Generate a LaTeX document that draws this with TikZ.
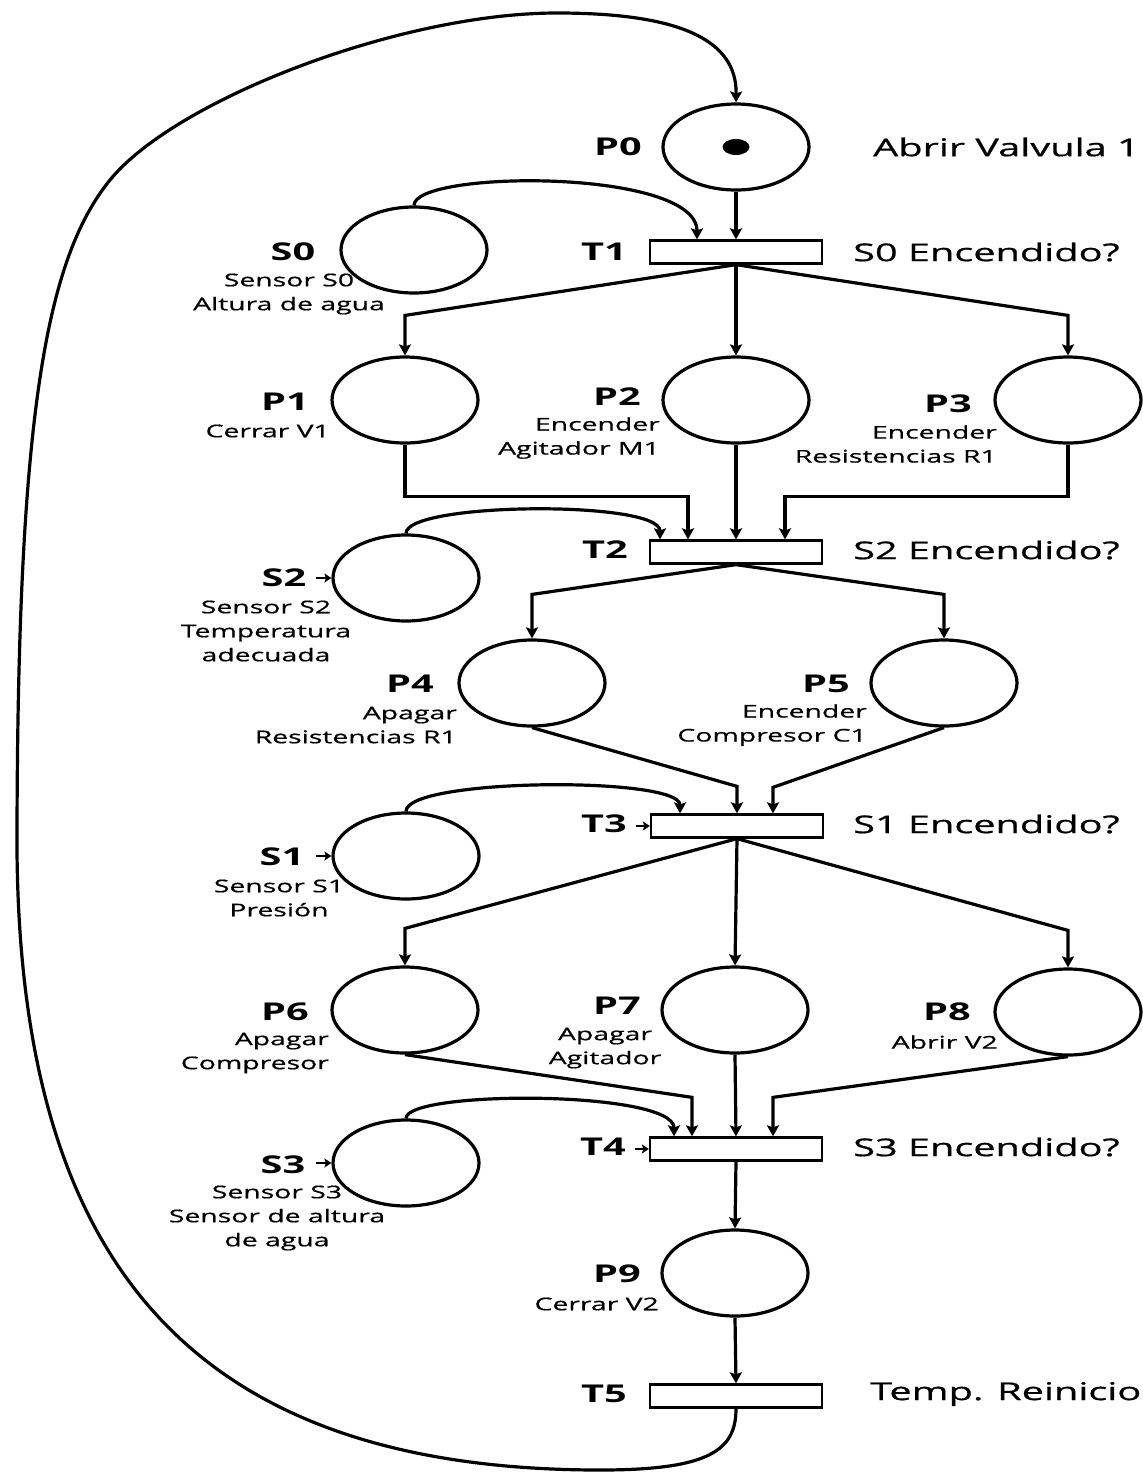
\documentclass[tikz,border=0pt]{standalone}
\usepackage{fontspec}
\setmainfont{Open Sans}[FakeStretch=1.62, UprightFeatures={FakeBold=0.7}]
\usetikzlibrary{shapes.geometric,arrows.meta,calc}

\begin{document}
\begin{tikzpicture}[x=1pt,y=-1pt,
  placeell/.style={ellipse, draw, line width=3.2pt, minimum width=146pt, minimum height=86pt, inner sep=0pt},
  transbox/.style={rectangle, draw, line width=2.3pt, fill=white, minimum width=172pt, minimum height=23pt, inner sep=0pt},
  pname/.style={font=\fontsize{24.5}{28}\selectfont\bfseries, inner sep=0pt},
  cond/.style={font=\fontsize{24.5}{28}\selectfont, inner sep=0pt, anchor=west},
  desc/.style={font=\fontsize{17.5}{24}\selectfont, inner sep=0pt, align=right, anchor=east},
  sdesc/.style={font=\fontsize{17.5}{24}\selectfont, inner sep=0pt, align=center},
  flowarrow/.style={line width=3.2pt, -{Stealth[length=11pt,width=12pt,inset=2pt]}},
  stubarrow/.style={line width=2.4pt, -{Stealth[length=7pt,width=9pt,inset=1.5pt]}},
]
\useasboundingbox (0,0) rectangle (1143,1473);

% places and transitions
\node[placeell] (P0) at (736,147) {};
\node[ellipse, fill, minimum width=27pt, minimum height=16pt, inner sep=0pt] (tok) at (P0) {};
\node[transbox] (T1) at (736,252) {};
\node[placeell] (S0) at (414,250) {};
\node[placeell] (P1) at (405,400) {};
\node[placeell] (P2) at (736,400) {};
\node[placeell] (P3) at (1068,400) {};
\node[transbox] (T2) at (736,552) {};
\node[placeell] (S2) at (406,578) {};
\node[placeell] (P4) at (532,683) {};
\node[placeell] (P5) at (944,683) {};
\node[transbox] (T3) at (737,826) {};
\node[placeell] (S1) at (406,856) {};
\node[placeell] (P6) at (405,1010) {};
\node[placeell] (P7) at (735,1010) {};
\node[placeell] (P8) at (1068,1012) {};
\node[transbox] (T4) at (736,1149) {};
\node[placeell] (S3) at (406,1163) {};
\node[placeell] (P9) at (735,1273) {};
\node[transbox] (T5) at (736,1396) {};

% names
\node[pname] (P0n) at (618,147) {P0};
\node[pname] (T1n) at (604,252) {T1};
\node[pname] (S0n) at (293,252) {S0};
\node[pname] (P1n) at (285,402) {P1};
\node[pname] (P2n) at (617,397) {P2};
\node[pname] (P3n) at (948,404) {P3};
\node[pname] (T2n) at (605,550) {T2};
\node[pname] (S2n) at (284,578) {S2};
\node[pname] (P4n) at (410,684) {P4};
\node[pname] (P5n) at (826,684) {P5};
\node[pname] (T3n) at (604,824) {T3};
\node[pname] (S1n) at (282,857) {S1};
\node[pname] (P6n) at (285,1012) {P6};
\node[pname] (P7n) at (617,1006) {P7};
\node[pname] (P8n) at (947,1012) {P8};
\node[pname] (T4n) at (603,1147) {T4};
\node[pname] (S3n) at (283,1165) {S3};
\node[pname] (P9n) at (617,1274) {P9};
\node[pname] (T5n) at (604,1394) {T5};

% conditions and actions on the right
\node[cond] (P0c) at (873,147) {Abrir Valvula 1};
\node[cond] (T1c) at (853,252) {S0 Encendido?};
\node[cond] (T2c) at (853,550) {S2 Encendido?};
\node[cond] (T3c) at (853,824) {S1 Encendido?};
\node[cond] (T4c) at (853,1147) {S3 Encendido?};
\node[cond] (T5c) at (870,1394) {Temp. Reinicio};

% descriptions
\node[sdesc] (S0d) at (289,294) {Sensor S0\\Altura de agua};
\node[desc] (P1d) at (330,431) {Cerrar V1};
\node[desc] (P2d) at (660,438) {Encender\\Agitador M1};
\node[desc] (P3d) at (997,444) {Encender\\Resistencias R1};
\node[sdesc] (S2d) at (266,631) {Sensor S2\\Temperatura\\adecuada};
\node[desc] (P4d) at (457,725) {Apagar\\Resistencias R1};
\node[desc] (P5d) at (867,725) {Encender\\Compresor C1};
\node[sdesc] (S1d) at (279,898) {Sensor S1\\Presión};
\node[desc] (P6d) at (329,1053) {Apagar\\Compresor};
\node[sdesc] (P7d) at (605,1048) {Apagar\\Agitador};
\node[desc] (P8d) at (998,1042) {Abrir V2};
\node[sdesc] (S3d) at (277,1218) {Sensor S3\\Sensor de altura\\de agua};
\node[desc] (P9d) at (659,1304) {Cerrar V2};

% small markers beside some names
\draw[stubarrow] ($(S2.west)+(-15,0)$) -- (S2.west);
\draw[stubarrow] ($(S1.west)+(-15,0)$) -- (S1.west);
\draw[stubarrow] ($(S3.west)+(-15,0)$) -- (S3.west);
\draw[stubarrow] ($(T3.west)+(-14,0)$) -- (T3.west);
\draw[stubarrow] ($(T4.west)+(-14,0)$) -- (T4.west);

% P0 -> T1 and sensor S0
\draw[flowarrow] (P0.south) -- (T1.north);
\draw[flowarrow] (S0.north) .. controls (414,170) and (697,168) .. ($(T1.north)+(-39,0)$);

% T1 fork
\draw[flowarrow] (T1.south) -- ($(P1.north)+(0,-40)$) -- (P1.north);
\draw[flowarrow] (T1.south) -- (P2.north);
\draw[flowarrow] (T1.south) -- ($(P3.north)+(0,-40)$) -- (P3.north);

% join into T2
\draw[flowarrow] (P1.south) -- ($(P1.south)+(0,52)$) -| ($(T2.north)+(-48,0)$);
\draw[flowarrow] (P2.south) -- (T2.north);
\draw[flowarrow] (P3.south) -- ($(P3.south)+(0,52)$) -| ($(T2.north)+(49,0)$);
\draw[flowarrow] (S2.north) .. controls (406,502) and (660,500) .. ($(T2.north)+(-76,0)$);

% T2 fork
\draw[flowarrow] (T2.south) -- ($(P4.north)+(0,-44)$) -- (P4.north);
\draw[flowarrow] (T2.south) -- ($(P5.north)+(0,-44)$) -- (P5.north);

% join into T3
\draw[flowarrow] (P4.south) -- ($(T3.north)+(0,-27)$) -- (T3.north);
\draw[flowarrow] (P5.south) -- ($(T3.north)+(36,-26)$) -- ($(T3.north)+(36,0)$);
\draw[flowarrow] (S1.north) .. controls (406,778) and (680,776) .. ($(T3.north)+(-57,0)$);

% T3 fork
\draw[flowarrow] (T3.south) -- ($(P6.north)+(0,-37)$) -- (P6.north);
\draw[flowarrow] (T3.south) -- (P7.north);
\draw[flowarrow] (T3.south) -- ($(P8.north)+(0,-37)$) -- (P8.north);

% join into T4
\draw[flowarrow] (P6.south) -- ($(T4.north)+(-44,-39)$) -- ($(T4.north)+(-44,0)$);
\draw[flowarrow] (P7.south) -- (T4.north);
\draw[flowarrow] (P8.south) -- ($(T4.north)+(37,-39)$) -- ($(T4.north)+(37,0)$);
\draw[flowarrow] (S3.north) .. controls (406,1090) and (674,1090) .. ($(T4.north)+(-62,0)$);

% T4 -> P9 -> T5
\draw[flowarrow] (T4.south) -- (P9.north);
\draw[flowarrow] (P9.south) -- (T5.north);

% return loop T5 -> P0
\draw[flowarrow] (T5.south) .. controls (736,1450) and (710,1470) .. (600,1470)
  .. controls (180,1470) and (20,1250) .. (17,850)
  .. controls (17,420) and (45,260) .. (110,180)
  .. controls (175,100) and (400,13) .. (557,13)
  .. controls (680,13) and (737,40) .. (P0.north);
\end{tikzpicture}
\end{document}
